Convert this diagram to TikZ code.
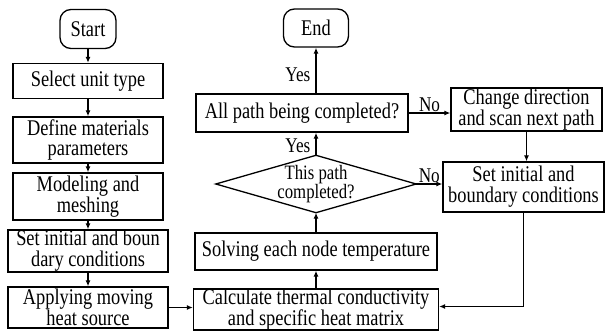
\documentclass[tikz,border=0pt]{standalone}
\usepackage{fontspec}
\setmainfont{Liberation Serif}[FakeStretch=0.82]
\usetikzlibrary{arrows.meta,positioning,calc}

\begin{document}
\begin{tikzpicture}[x=1bp,y=-1bp,
    box/.style={draw,line width=1.3bp,align=center,inner sep=0pt,font=\fontsize{22.5}{21}\selectfont},
    term/.style={box,rounded corners=11bp},
    arr/.style={-{Latex[length=6bp,width=5bp]},line width=1.3bp},
    lbl/.style={font=\fontsize{21}{20}\selectfont,inner sep=1bp}]
  \useasboundingbox (0,0) rectangle (605,331);

  % Left column
  \node[term, minimum width=56bp, minimum height=39bp] (start) at (88,29) {Start};
  \node[box, minimum width=150bp, minimum height=35bp] (sel) at (88,81) {Select unit type};
  \node[box, minimum width=150bp, minimum height=46bp] (mat) at (88,140) {Define materials\\parameters};
  \node[box, minimum width=150bp, minimum height=47bp] (mesh) at (88,196.5) {Modeling and\\meshing};
  \node[box, minimum width=160bp, minimum height=42bp] (initL) at (88,251) {Set initial and boun\\dary conditions};
  \node[box, minimum width=160bp, minimum height=41bp] (heat) at (88,307.5) {Applying moving\\heat source};

  % Middle column
  \node[term, minimum width=65bp, minimum height=38bp] (stop) at (316,28) {End};
  \node[box, minimum width=212bp, minimum height=38bp] (allp) at (302,113) {All path being completed?};
  \node[minimum width=200bp, minimum height=57bp, inner sep=0pt, align=center,
        font=\fontsize{20.5}{18}\selectfont] (path) at (316,184) {This path\\completed?};
  \draw[line width=1.3bp] (path.north) -- (path.east) -- (path.south) -- (path.west) -- cycle;
  \node[box, minimum width=242bp, minimum height=37bp] (solve) at (316,251.5) {Solving each node temperature};
  \node[box, minimum width=245bp, minimum height=41bp] (cond) at (316,309.5) {Calculate thermal conductivity\\and specific heat matrix};

  % Right column
  \node[box, minimum width=151bp, minimum height=43bp] (scan) at (526.5,109.5) {Change direction\\and scan next path};
  \node[box, minimum width=161bp, minimum height=50bp] (initR) at (523.5,187) {Set initial and\\boundary conditions};

  % Connectors
  \draw[arr] (start) -- (sel);
  \draw[arr] (sel) -- (mat);
  \draw[arr] (mat) -- (mesh);
  \draw[arr] (mesh) -- (initL);
  \draw[arr] (initL) -- (heat);
  \draw[arr] (heat) -- (heat -| cond.west);
  \draw[arr] (cond) -- (solve);
  \draw[arr] (solve) -- (path.south);
  \draw[arr] (path.north) -- (path.north |- allp.south) node[lbl,pos=0.4,left=4bp] {Yes};
  \draw[arr] (stop |- allp.north) -- (stop.south) node[lbl,pos=0.4,left=4bp] {Yes};
  \draw[arr] (allp.east) -- (allp.east -| scan.west) node[lbl,midway,above] {No};
  \draw[arr] (scan.south) -- (scan.south |- initR.north);
  \draw[arr] (path.east) -- (path.east -| initR.west) node[lbl,midway,above] {No};
  \draw[arr] (initR.south) |- ($(cond.east)+(0,-3)$);
\end{tikzpicture}
\end{document}
